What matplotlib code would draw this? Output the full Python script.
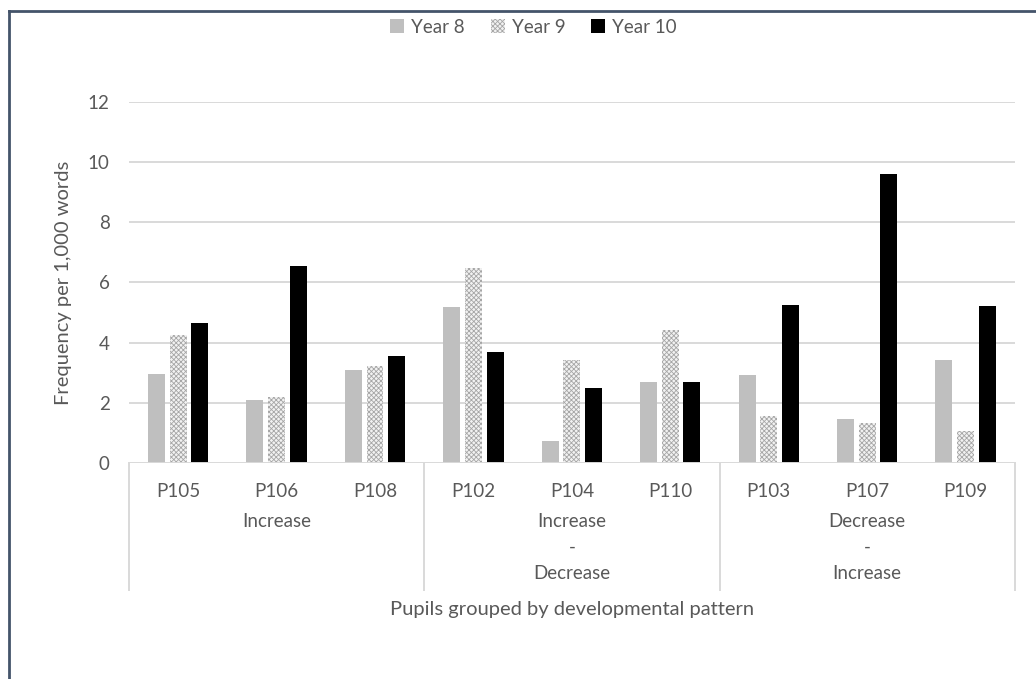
import numpy as np
import matplotlib
matplotlib.use('Agg')
import matplotlib.pyplot as plt
from matplotlib.patches import Patch

# Frequency per 1,000 words for each pupil, by school year
PUPILS = ["P105", "P106", "P108", "P102", "P104", "P110", "P103", "P107", "P109"]
GROUPS = ["Increase", "Increase\n-\nDecrease", "Decrease\n-\nIncrease"]
GROUP_SIZES = [3, 3, 3]
YEAR8 = [2.97, 2.10, 3.10, 5.17, 0.74, 2.71, 2.94, 1.48, 3.43]
YEAR9 = [4.24, 2.21, 3.21, 6.48, 3.41, 4.43, 1.58, 1.33, 1.05]
YEAR10 = [4.67, 6.55, 3.55, 3.70, 2.50, 2.68, 5.24, 9.61, 5.22]
SERIES_NAMES = ["Year 8", "Year 9", "Year 10"]
YTICKS = [0, 2, 4, 6, 8, 10, 12]

TEXT = "#595959"
GRID = "#d9d9d9"

plt.rcParams['font.family'] = ['Lato', 'DejaVu Sans']
plt.rcParams['hatch.linewidth'] = 0.6

fig = plt.figure(figsize=(10.36, 6.79), dpi=100)
ax = fig.add_axes([0.1245, 0.318, 0.855, 0.532])

x = np.arange(len(PUPILS))
width = 0.172
step = 0.22

ax.bar(x - step, YEAR8, width, color="#bfbfbf", zorder=3, linewidth=0)
ax.bar(x, YEAR9, width, facecolor="#f2f2f2", edgecolor="#a6a6a6",
       hatch="xxxxxxx", linewidth=0, zorder=3)
ax.bar(x + step, YEAR10, width, color="black", zorder=3, linewidth=0)

ax.set_xlim(-0.5, len(PUPILS) - 0.5)
ax.set_ylim(0, 12)
ax.set_yticks(YTICKS)
ax.set_yticklabels([str(t) for t in YTICKS], color=TEXT, fontsize=13.5)
ax.tick_params(axis='y', length=0, pad=14)
ax.set_xticks([])

for t in YTICKS[1:]:
    ax.axhline(t, color=GRID, linewidth=1.4, zorder=1)
ax.axhline(0, color=GRID, linewidth=1.4, zorder=4)

for s in ax.spines.values():
    s.set_visible(False)

# multi-level category axis drawn below the plot
trans = ax.get_xaxis_transform()
bottom = -0.352
edges = np.concatenate([[0], np.cumsum(GROUP_SIZES)]) - 0.5
for e in edges:
    ax.plot([e, e], [0, bottom], transform=trans, color=GRID,
            linewidth=1.4, clip_on=False)

for xi, name in zip(x, PUPILS):
    ax.text(xi, -0.078, name, transform=trans, ha='center', va='center',
            fontsize=13.5, color=TEXT)

for i, g in enumerate(GROUPS):
    cx = (edges[i] + edges[i + 1]) / 2
    for j, line in enumerate(g.split("\n")):
        ax.text(cx, -0.163 - j * 0.071, line, transform=trans, ha='center',
                va='center', fontsize=13.5, color=TEXT)

ax.text(0.5, -0.404, "Pupils grouped by developmental pattern",
        transform=ax.transAxes, ha='center', va='center', fontsize=14.5,
        color=TEXT)

ax.set_ylabel("Frequency per 1,000 words", fontsize=14.5, color=TEXT,
              labelpad=11)

handles = [
    Patch(facecolor="#bfbfbf", linewidth=0),
    Patch(facecolor="#f2f2f2", edgecolor="#a6a6a6", hatch="xxxxxxx", linewidth=0),
    Patch(facecolor="black", linewidth=0),
]
fig.legend(handles, SERIES_NAMES, loc='center', bbox_to_anchor=(0.515, 0.96),
           ncol=3, frameon=False, fontsize=13.5, labelcolor=TEXT,
           handlelength=0.75, handleheight=0.75, handletextpad=0.35,
           columnspacing=1.4)

# chart area frame (left and top edges visible)
fig.add_artist(plt.Line2D([0.009, 0.009], [0, 0.984], color="#44546a",
                          linewidth=2, transform=fig.transFigure))
fig.add_artist(plt.Line2D([0.009, 1.0], [0.984, 0.984], color="#44546a",
                          linewidth=2, transform=fig.transFigure))

fig.savefig("out.png", dpi=100)
